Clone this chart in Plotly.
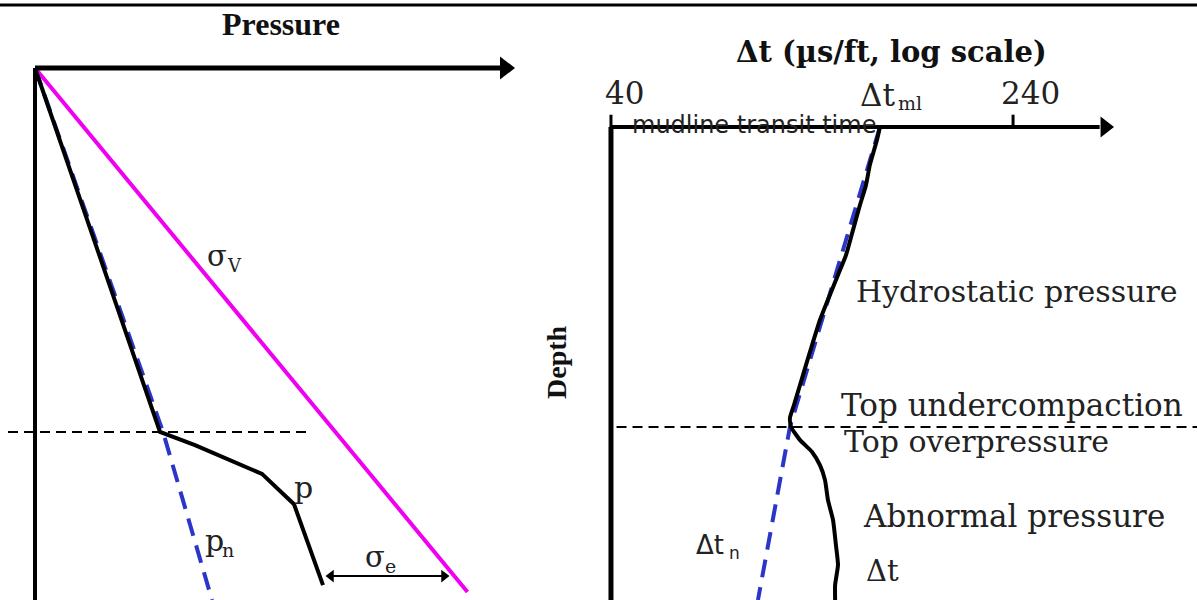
import plotly.graph_objects as go

W, H = 1197, 600

# ---------------- Left panel data (arbitrary pressure units vs normalised depth) ----------------
sigma_v_p = [0, 86.5]
sigma_v_d = [0, 98.5]

p_pressure = [0, 25, 32, 45.4, 51.8, 57.6]
p_depth = [0, 68.4, 70.9, 76.3, 82.0, 97.2]

pn_pressure = [0, 25.6, 35.4]
pn_depth = [0, 68.4, 100]

top_op_depth_left = 68.4
sigma_e_depth = 95.5
sigma_e_from, sigma_e_to = 58.0, 83.0

# ---------------- Right panel data (Δt, µs/ft, log scale vs normalised depth) ----------------
dt_values = [132.6, 130.9, 126.8, 124.6, 121.3, 117.6, 114.0, 110.0, 106.1, 101.5, 98.0,
             95.4, 92.9, 90.4, 88.8, 89.2, 92.9, 98.0, 101.5, 103.8, 105.2, 107.6, 109.0,
             110.0, 108.6, 108.6]
dt_depth = [0, 2.7, 8.0, 12.3, 16.5, 21.8, 27.1, 31.3, 35.5, 40.8, 46.1,
            50.3, 54.5, 58.8, 61.5, 63.4, 66.2, 68.7, 71.5, 74.6, 78.9, 83.1, 88.4,
            92.6, 96.8, 100]

dtn_values = [132.6, 88.8, 77.0]
dtn_depth = [0, 63.4, 100]

top_op_depth_right = 63.4
tick_values = [40, 240]
tick_labels = ["40", "240"]

fig = go.Figure()

BLACK = "#000000"
MAGENTA = "#f000f0"
BLUE = "#2b35c8"


def line(x, y, ax, color=BLACK, width=4, dash=None):
    fig.add_trace(go.Scatter(x=x, y=y, mode="lines",
                             line=dict(color=color, width=width, dash=dash),
                             xaxis="x" if ax == 1 else "x2", yaxis="y" if ax == 1 else "y2",
                             hoverinfo="skip", cliponaxis=False))


def marker(x, y, ax, symbol, size):
    fig.add_trace(go.Scatter(x=x, y=y, mode="markers",
                             marker=dict(symbol=symbol, size=size, color=BLACK, line=dict(width=0)),
                             xaxis="x" if ax == 1 else "x2", yaxis="y" if ax == 1 else "y2",
                             hoverinfo="skip", cliponaxis=False))


# ---------- Left panel ----------
line(pn_pressure, pn_depth, 1, color=BLUE, width=4, dash="18px,10px")
line(sigma_v_p, sigma_v_d, 1, color=MAGENTA, width=4)
line(p_pressure, p_depth, 1, width=4)
line([-5.4, 55], [top_op_depth_left] * 2, 1, width=2, dash="10px,6px")
line([0, 93], [0, 0], 1, width=5)
marker([94], [0], 1, "triangle-right", 20)
line([0, 0], [0, 101], 1, width=4)
# σe double-headed arrow
line([sigma_e_from + 1, sigma_e_to - 1], [sigma_e_depth] * 2, 1, width=2)
marker([sigma_e_from + 1.2], [sigma_e_depth], 1, "triangle-left", 11)
marker([sigma_e_to - 1.2], [sigma_e_depth], 1, "triangle-right", 11)

# ---------- Right panel ----------
line(dtn_values, dtn_depth, 2, color=BLUE, width=4, dash="18px,10px")
fig.add_trace(go.Scatter(x=dt_values, y=dt_depth, mode="lines",
                         line=dict(color=BLACK, width=4, shape="spline", smoothing=0.5),
                         xaxis="x2", yaxis="y2", hoverinfo="skip"))
line([41, 545], [top_op_depth_right] * 2, 2, width=2, dash="10px,6px")
line([40, 353], [0, 0], 2, width=4)
marker([361.6], [0], 2, "triangle-right", 18)
line([40, 40], [0, 101], 2, width=5)
for tv in tick_values:
    line([tv, tv], [-2.6, 0], 2, width=3)


# ---------- Texts ----------
def ptxt(px, py, text, size, family="DejaVu Serif", xanchor="center", textangle=0,
         color="#222", weight="normal"):
    fig.add_annotation(x=px / W, y=1 - py / H, xref="paper", yref="paper", text=text,
                       showarrow=False, xanchor=xanchor, yanchor="middle",
                       textangle=textangle,
                       font=dict(size=size, family=family, color=color, weight=weight))


ptxt(281, 24, "Pressure", 32, family="Liberation Serif", color="#111", weight="bold")
ptxt(205, 256, "σ", 29, xanchor="left")
ptxt(225, 265, "V", 18, xanchor="left")
ptxt(303, 487, "p", 30)
ptxt(203, 540, "p", 30, xanchor="left")
ptxt(220, 550, "n", 19, xanchor="left")
ptxt(363, 557, "σ", 29, xanchor="left")
ptxt(383, 566, "e", 19, xanchor="left")

ptxt(891, 52, "Δt (µs/ft, log scale)", 29, color="#111", weight="bold")
ptxt(624, 93, tick_labels[0], 31)
ptxt(1030, 93, tick_labels[1], 31)
ptxt(858, 95, "Δt", 31, xanchor="left")
ptxt(896, 103, "ml", 19, xanchor="left")
ptxt(630, 125, "mudline transit time", 24, family="DejaVu Sans", xanchor="left")
ptxt(1017, 291, "Hydrostatic pressure", 30)
ptxt(1012, 405, "Top undercompaction", 31)
ptxt(976, 441, "Top overpressure", 30)
ptxt(1014, 516, "Abnormal pressure", 31)
ptxt(882, 571, "Δt", 29)
ptxt(694, 545, "Δt", 26, family="DejaVu Sans", xanchor="left")
ptxt(727, 553, "n", 17, family="DejaVu Sans", xanchor="left")
ptxt(556, 362, "Depth", 28, family="Liberation Serif", textangle=-90, color="#111", weight="bold")

fig.update_layout(
    width=W, height=H,
    margin=dict(l=0, r=0, t=0, b=0),
    paper_bgcolor="white", plot_bgcolor="white",
    showlegend=False,
    xaxis=dict(domain=[0, 0.5], range=[-7, 112.7], visible=False, anchor="y"),
    yaxis=dict(domain=[0, 1], range=[100, -12.78], visible=False, anchor="x"),
    xaxis2=dict(domain=[0.5, 1], type="log", range=[1.5779, 2.7362], visible=False, anchor="y2"),
    yaxis2=dict(domain=[0, 1], range=[100, -26.85], visible=False, anchor="x2"),
    shapes=[dict(type="line", xref="paper", yref="paper", x0=0, x1=1,
                 y0=1 - 5 / H, y1=1 - 5 / H, line=dict(color=BLACK, width=3))],
)

fig.write_html("out.html", config={"displayModeBar": False},
               post_script="document.body.style.margin='0';")
